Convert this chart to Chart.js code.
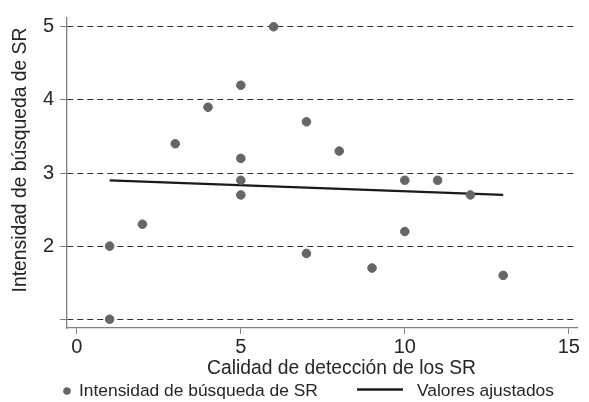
<!DOCTYPE html>
<html>
<head>
<meta charset="utf-8">
<script src="https://cdn.jsdelivr.net/npm/chart.js@4"></script>
<style>
  body { margin: 0; background: #fff; }
</style>
</head>
<body>
<canvas id="grafico" width="589" height="402"></canvas>
<script>
// datos
var calidad    = [1, 1, 2, 3, 4, 5, 5, 5, 5, 6, 7, 7, 8, 9, 10, 10, 11, 12, 13]
var intensidad = [2, 1, 2.3, 3.4, 3.9, 4.2, 3.2, 2.9, 2.7, 5, 3.7, 1.9, 3.3, 1.7, 2.9, 2.2, 2.9, 2.7, 1.6]
var ajusteX = [1, 13]
var ajusteY = [2.9, 2.7]

var xTicks = [0, 5, 10, 15]
var xTickLabels = ['0', '5', '10', '15']
var yTicks = [1, 2, 3, 4, 5]
var yTickLabels = ['', '2', '3', '4', '5']

var serieNombres = ['Intensidad de búsqueda de SR', 'Valores ajustados']
var tituloX = 'Calidad de detección de los SR'
var tituloY = 'Intensidad de búsqueda de SR'

var fuente = '"Liberation Sans", Arial, sans-serif'
var colorTexto = '#262626'
var colorPuntos = '#666666'
var colorEje = '#808080'

var puntos = calidad.map(function (x, i) { return {x: x, y: intensidad[i]} })
var ajuste = ajusteX.map(function (x, i) { return {x: x, y: ajusteY[i]} })

// titulos de los ejes y leyenda, dibujados a mano
const textos = {
    id: 'textos',
    afterDraw(chart) {
        var ctx = chart.ctx
        var y = chart.height - 11
        ctx.save()
        ctx.textBaseline = 'middle'
        ctx.fillStyle = colorTexto
        ctx.font = '19.3px ' + fuente
        ctx.textAlign = 'center'

        // titulo eje x
        ctx.fillText(tituloX, 341.5, chart.scales.x.top + 41)

        // titulo eje y
        ctx.save()
        ctx.translate(21, 160)
        ctx.rotate(-Math.PI / 2)
        ctx.fillText(tituloY, 0, 0)
        ctx.restore()

        // leyenda
        ctx.textAlign = 'left'
        ctx.font = '17.4px ' + fuente
        ctx.fillStyle = colorPuntos
        ctx.beginPath()
        ctx.arc(67, y, 3.8, 0, Math.PI * 2)
        ctx.fill()
        ctx.fillStyle = colorTexto
        ctx.fillText(serieNombres[0], 79, y)

        ctx.strokeStyle = '#1a1a1a'
        ctx.lineWidth = 2.4
        ctx.beginPath()
        ctx.moveTo(357, y - 1.5)
        ctx.lineTo(403, y - 1.5)
        ctx.stroke()
        ctx.fillText(serieNombres[1], 417, y)
        ctx.restore()
    }
}

const config = {
    type: 'scatter',
    data: {
        datasets: [
            {
                label: serieNombres[0],
                data: puntos,
                backgroundColor: colorPuntos,
                borderColor: colorPuntos,
                pointRadius: 4.3,
                pointHoverRadius: 4.3
            },
            {
                label: serieNombres[1],
                type: 'line',
                data: ajuste,
                borderColor: '#1a1a1a',
                borderWidth: 2.2,
                pointRadius: 0,
                fill: false
            }
        ]
    },
    options: {
        responsive: false,
        animation: false,
        layout: {
            padding: {left: 0, top: 15, right: 12, bottom: 24}
        },
        plugins: {
            legend: {display: false},
            tooltip: {enabled: false}
        },
        scales: {
            x: {
                type: 'linear',
                min: -0.3,
                max: 15.25,
                afterBuildTicks: function (scale) {
                    scale.ticks = xTicks.map(function (v) { return {value: v} })
                },
                afterFit: function (scale) { scale.height = 50 },
                ticks: {
                    color: colorTexto,
                    font: {family: fuente, size: 20},
                    padding: 1,
                    maxRotation: 0,
                    callback: function (v, i) { return xTickLabels[i] }
                },
                grid: {
                    drawOnChartArea: false,
                    drawTicks: true,
                    tickLength: 6,
                    tickColor: colorEje
                },
                border: {color: colorEje, width: 1.3}
            },
            y: {
                type: 'linear',
                min: 0.88,
                max: 5.12,
                afterBuildTicks: function (scale) {
                    scale.ticks = yTicks.map(function (v) { return {value: v} })
                },
                afterFit: function (scale) { scale.width = 67 },
                ticks: {
                    color: colorTexto,
                    font: {family: fuente, size: 20},
                    padding: 6,
                    callback: function (v, i) { return yTickLabels[i] }
                },
                grid: {
                    color: '#333333',
                    lineWidth: 1,
                    tickBorderDash: [],
                    tickLength: 7,
                    tickColor: colorEje
                },
                border: {color: colorEje, width: 1.3, dash: [6, 4]}
            }
        }
    },
    plugins: [textos]
}

var chart = new Chart(document.getElementById('grafico'), config)
</script>
</body>
</html>
